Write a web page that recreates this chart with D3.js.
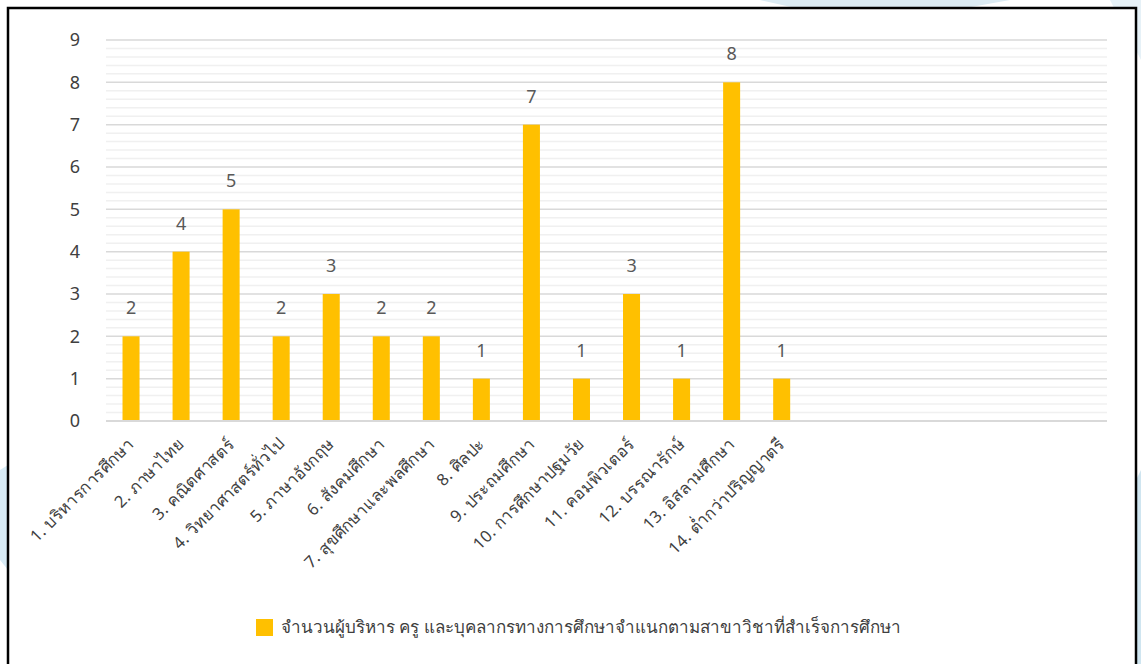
<!DOCTYPE html>
<html><head><meta charset="utf-8">
<script src="https://cdn.jsdelivr.net/npm/d3@7"></script>
<style>body{margin:0;background:#fff}svg{display:block}text{font-family:"Noto Sans","Leelawadee UI",Tahoma,sans-serif}</style>
</head><body>
<script>
const categories = ["1. บริหารการศึกษา","2. ภาษาไทย","3. คณิตศาสตร์","4. วิทยาศาสตร์ทั่วไป","5. ภาษาอังกฤษ","6. สังคมศึกษา","7. สุขศึกษาและพลศึกษา","8. ศิลปะ","9. ประถมศึกษา","10. การศึกษาปฐมวัย","11. คอมพิวเตอร์","12. บรรณารักษ์","13. อิสลามศึกษา","14. ต่ำกว่าปริญญาตรี","","","","","",""];
const values = [2,4,5,2,3,2,2,1,7,1,3,1,8,1];
const yTicks = [0,1,2,3,4,5,6,7,8,9];
const seriesName = "จำนวนผู้บริหาร ครู และบุคลากรทางการศึกษาจำแนกตามสาขาวิชาที่สำเร็จการศึกษา";

const W=1141,H=664;
const svg=d3.select("body").append("svg").attr("width",W).attr("height",H);
// background decorations
svg.append("polygon").attr("points","760,0 1010,0 960,9 800,9").attr("fill","#dcebf3");
svg.append("polygon").attr("points","1110,0 1141,0 1141,60").attr("fill","#e6f1f7");
svg.append("polygon").attr("points","1136,480 1141,470 1141,664 1136,664").attr("fill","#cfe5f0");
svg.append("polygon").attr("points","0,470 8,465 8,570 0,560").attr("fill","#d8ebf5");
svg.append("rect").attr("x",8).attr("y",8).attr("width",1128).attr("height",670).attr("fill","#fff").attr("stroke","#000").attr("stroke-width",2.5);

const x=d3.scaleBand().domain(d3.range(categories.length)).range([106,1107]).paddingInner(0.66).paddingOuter(0.33);
const y=d3.scaleLinear().domain([0,9]).range([421,40]);

// minor grid
const minor=d3.range(0,9.001,0.2).filter(v=>Math.abs(v-Math.round(v))>1e-6);
svg.append("g").selectAll("line").data(minor).join("line")
 .attr("x1",106).attr("x2",1107).attr("y1",d=>y(d)).attr("y2",d=>y(d))
 .attr("stroke","#f0f0f0").attr("stroke-width",1.5);
// major grid
svg.append("g").selectAll("line").data(yTicks.filter(d=>d>0)).join("line")
 .attr("x1",106).attr("x2",1107).attr("y1",d=>y(d)).attr("y2",d=>y(d))
 .attr("stroke","#d9d9d9").attr("stroke-width",1.5);

// y axis labels
const ya=svg.append("g").attr("transform","translate(80,0)").call(d3.axisLeft(y).tickValues(yTicks).tickSize(0).tickPadding(0));
ya.select(".domain").remove();
ya.selectAll("text").attr("font-size",18).attr("fill","#404040").attr("text-anchor","middle").attr("dx",-5);

// bars
svg.append("g").selectAll("rect").data(values).join("rect")
 .attr("x",(d,i)=>x(i)).attr("width",x.bandwidth()).attr("y",d=>y(d)).attr("height",d=>y(0)-y(d)).attr("fill","#ffc000");

// baseline
svg.append("line").attr("x1",106).attr("x2",1107).attr("y1",y(0)).attr("y2",y(0)).attr("stroke","#d9d9d9").attr("stroke-width",2);

// data labels
svg.append("g").selectAll("text").data(values).join("text")
 .attr("x",(d,i)=>x(i)+x.bandwidth()/2).attr("y",d=>y(d)-22).attr("text-anchor","middle")
 .attr("font-size",18).attr("fill","#595959").text(d=>d);

// x labels
const xa=svg.append("g").attr("transform",`translate(0,${y(0)})`).call(d3.axisBottom(x).tickFormat(i=>categories[i]).tickSize(0).tickPadding(0));
xa.select(".domain").remove();
xa.selectAll("text").attr("font-size",16.5).attr("fill","#404040").attr("text-anchor","end")
 .attr("dy",0).attr("letter-spacing",0.3).attr("transform","translate(4,24) rotate(-45)");

// legend
svg.append("rect").attr("x",256).attr("y",619).attr("width",17).attr("height",17).attr("fill","#ffc000");
svg.append("text").attr("x",281).attr("y",633).attr("font-size",17).attr("fill","#404040").text(seriesName);
</script>
</body></html>
